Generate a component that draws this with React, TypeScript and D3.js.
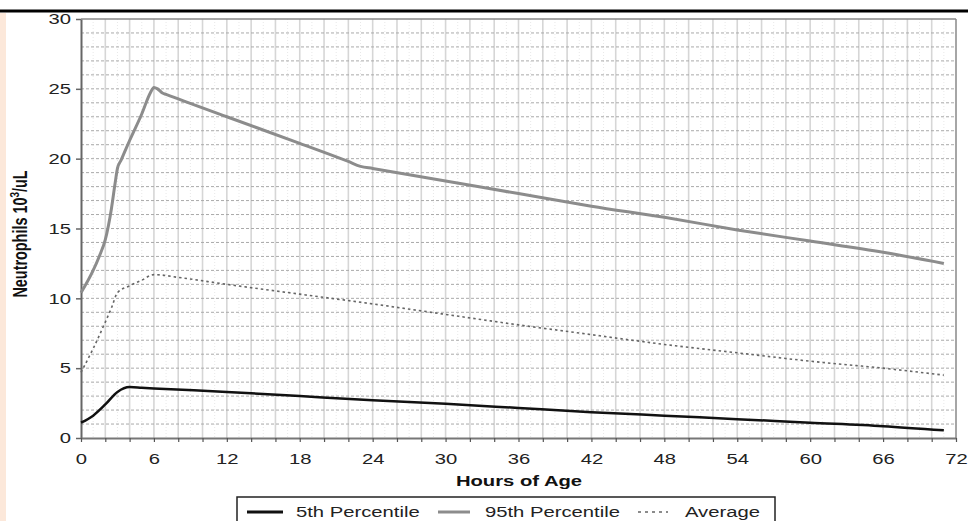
import React, { useEffect, useRef } from "react";
import * as d3 from "d3";

// values
const hours5 = [0, 1, 2, 3, 4, 5, 6, 12, 18, 24, 30, 36, 42, 48, 54, 60, 66, 71];
const pct5 = [1.1, 1.6, 2.4, 3.3, 3.65, 3.6, 3.55, 3.3, 3.0, 2.7, 2.45, 2.15, 1.85, 1.6, 1.35, 1.1, 0.85, 0.55];

const hours95 = [0, 1, 1.5, 2, 2.5, 2.8, 3, 3.3, 3.6, 4, 5, 5.7, 6, 6.3, 6.7, 7, 12, 18, 22, 23, 24, 30, 36, 42, 48, 54, 60, 66, 71];
const pct95 = [10.4, 12.0, 13.0, 14.2, 16.4, 18.2, 19.3, 19.9, 20.5, 21.3, 23.2, 24.7, 25.1, 25.0, 24.7, 24.6, 23.0, 21.1, 19.8, 19.45, 19.3, 18.4, 17.5, 16.6, 15.8, 14.9, 14.1, 13.3, 12.5];

const hoursAvg = [0, 1, 2, 2.5, 3, 4, 5, 6, 8, 12, 18, 24, 30, 36, 42, 48, 54, 60, 66, 71];
const average = [4.7, 6.4, 8.3, 9.3, 10.4, 10.9, 11.3, 11.7, 11.5, 11.0, 10.3, 9.6, 8.85, 8.1, 7.4, 6.7, 6.1, 5.5, 5.0, 4.5];

const yTicks = [0, 5, 10, 15, 20, 25, 30];
const xTicks = d3.range(0, 73, 2);

const SX = 1.35; // the original picture is stretched sideways

export default function App() {
    const ref = useRef<SVGSVGElement>(null);

    useEffect(() => {
        const svg = d3.select(ref.current);
        svg.selectAll("*").remove();
        const font = "'Liberation Sans', Arial, sans-serif";

        const x = d3.scaleLinear().domain([0, 72]).range([81, 956]);
        const y = d3.scaleLinear().domain([0, 30]).range([438, 19]);

        // page decoration
        svg.append("rect").attr("x", 0).attr("y", 13).attr("width", 6).attr("height", 508).attr("fill", "#fce8da");
        svg.append("line").attr("x1", 0).attr("x2", 968).attr("y1", 11).attr("y2", 11)
            .attr("stroke", "#000").attr("stroke-width", 3);

        // grid, vertical
        svg.append("g").selectAll("line")
            .data(d3.range(1, 72))
            .enter()
            .append("line")
            .attr("x1", (h) => x(h)).attr("x2", (h) => x(h))
            .attr("y1", y(30)).attr("y2", y(0))
            .attr("stroke", (h) => (h % 2 ? "#e8e8e8" : "#d6d6d6"))
            .attr("stroke-width", (h) => (h % 2 ? 1 : 1.6))
            .attr("stroke-dasharray", (h) => (h % 2 ? "1,2" : null));

        // grid, horizontal
        svg.append("g").selectAll("line")
            .data(d3.range(1, 30))
            .enter()
            .append("line")
            .attr("x1", x(0)).attr("x2", x(72))
            .attr("y1", (v) => y(v)).attr("y2", (v) => y(v))
            .attr("stroke", "#aaa")
            .attr("stroke-width", 1)
            .attr("stroke-dasharray", "3,2");

        // top and right border
        svg.append("line").attr("x1", x(0)).attr("x2", x(72)).attr("y1", y(30)).attr("y2", y(30))
            .attr("stroke", "#888").attr("stroke-width", 1.5);
        svg.append("line").attr("x1", x(72)).attr("x2", x(72)).attr("y1", y(30)).attr("y2", y(0))
            .attr("stroke", "#888").attr("stroke-width", 1.5);

        // axes
        const yAxis = svg.append("g")
            .attr("transform", `translate(${x(0)},0)`)
            .call(d3.axisLeft(y).tickValues(yTicks).tickSize(5).tickSizeOuter(0));
        yAxis.select(".domain").attr("stroke", "#666").attr("stroke-width", 2);
        yAxis.selectAll(".tick line").attr("stroke", "#666").attr("stroke-width", 1.5);
        yAxis.selectAll(".tick text")
            .attr("x", -10 / SX)
            .attr("transform", `scale(${SX},1)`)
            .attr("font-size", 15).attr("font-family", font).attr("fill", "#222");

        const xAxis = svg.append("g")
            .attr("transform", `translate(0,${y(0)})`)
            .call(d3.axisBottom(x).tickValues(xTicks).tickSize(4).tickSizeOuter(0).tickPadding(11)
                .tickFormat((d) => (+d % 6 === 0 ? String(d) : "")));
        xAxis.select(".domain").attr("stroke", "#777").attr("stroke-width", 2);
        xAxis.selectAll(".tick line").attr("stroke", "#555").attr("stroke-width", 1.2);
        xAxis.selectAll(".tick text")
            .attr("transform", `scale(${SX},1)`)
            .attr("font-size", 15).attr("font-family", font).attr("fill", "#222");

        // series
        const path = (hours: number[], curve: d3.CurveFactory) => d3.line<number>()
            .x((_, i) => x(hours[i]))
            .y((d) => y(d))
            .curve(curve);

        svg.append("path").attr("d", path(hoursAvg, d3.curveMonotoneX)(average))
            .attr("fill", "none").attr("stroke", "#666").attr("stroke-width", 1.6)
            .attr("stroke-dasharray", "2.5,3");
        svg.append("path").attr("d", path(hours95, d3.curveMonotoneX)(pct95))
            .attr("fill", "none").attr("stroke", "#8c8c8c").attr("stroke-width", 3)
            .attr("stroke-linejoin", "round");
        svg.append("path").attr("d", path(hours5, d3.curveMonotoneX)(pct5))
            .attr("fill", "none").attr("stroke", "#111").attr("stroke-width", 2.5);

        // axis titles
        svg.append("text")
            .attr("transform", `translate(519,486) scale(${SX},1)`)
            .attr("text-anchor", "middle")
            .attr("font-family", font).attr("font-weight", "bold").attr("font-size", 15).attr("fill", "#111")
            .text("Hours of Age");

        const yt = svg.append("text")
            .attr("transform", `translate(27,234) scale(${SX},1) rotate(-90)`)
            .attr("text-anchor", "middle")
            .attr("font-family", font).attr("font-weight", "bold").attr("font-size", 14.4).attr("fill", "#111");
        yt.append("tspan").text("Neutrophils 10");
        yt.append("tspan").attr("font-size", 10).attr("dy", -6).text("3");
        yt.append("tspan").attr("dy", 6).text("/uL");

        // legend
        svg.append("rect").attr("x", 237).attr("y", 497).attr("width", 538).attr("height", 40)
            .attr("fill", "#fff").attr("stroke", "#222").attr("stroke-width", 1.5);

        const legend = [
            { label: "5th Percentile", x0: 247, x1: 283, tx: 296, color: "#111", width: 3, dash: null },
            { label: "95th Percentile", x0: 438, x1: 470, tx: 485, color: "#8c8c8c", width: 3, dash: null },
            { label: "Average", x0: 638, x1: 668, tx: 685, color: "#666", width: 1.5, dash: "3,4" },
        ];
        const items = svg.append("g").selectAll("g").data(legend).enter().append("g");
        items.append("line")
            .attr("x1", (d) => d.x0).attr("x2", (d) => d.x1).attr("y1", 512).attr("y2", 512)
            .attr("stroke", (d) => d.color).attr("stroke-width", (d) => d.width)
            .attr("stroke-dasharray", (d) => d.dash);
        items.append("text")
            .attr("transform", (d) => `translate(${d.tx},517) scale(${SX},1)`)
            .attr("font-family", font).attr("font-size", 15).attr("fill", "#222")
            .text((d) => d.label);
    }, []);

    return (
        <svg
            ref={ref}
            width={968}
            height={521}
            style={{ position: "absolute", left: 0, top: 0, background: "#fff" }}
        />
    );
}
